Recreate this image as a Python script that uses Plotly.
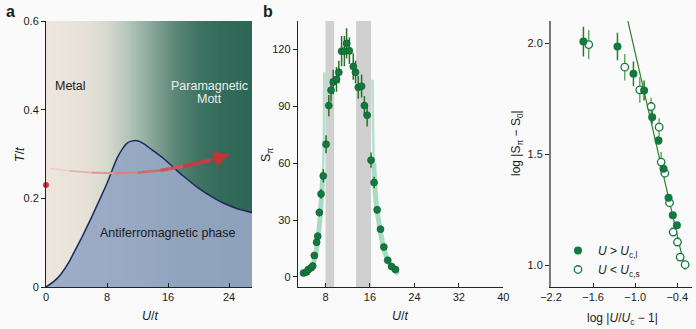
import numpy as np
import plotly.graph_objects as go

W, H = 696, 329

# ---------------- Panel a data ----------------
afm_u = [0, 1, 2, 3, 3.6, 4.7, 5.8, 7.0, 8.0, 8.7, 9.3, 10.0, 10.6, 11.2, 11.9, 12.3, 13.0, 13.6, 14.5, 15.6, 16.7, 17.8, 18.9, 20.0, 21.1, 22.2, 23.3, 25.0, 27.0]
afm_t = [0, 0.012, 0.03, 0.056, 0.076, 0.112, 0.151, 0.196, 0.234, 0.265, 0.290, 0.311, 0.324, 0.329, 0.330, 0.328, 0.321, 0.313, 0.302, 0.287, 0.270, 0.253, 0.2375, 0.223, 0.21, 0.199, 0.189, 0.177, 0.1677]
arrow_u = [0.5, 3, 6, 9, 12, 15, 18, 21.6]
arrow_t = [0.267, 0.262, 0.258, 0.2565, 0.258, 0.263, 0.272, 0.286]
arrow_tip = (24.1, 0.299)
start_dot = (0, 0.23)
grad_stops_u = [0, 5, 8, 11, 14, 17, 20, 23, 27]
grad_stops_c = ['#ede6dc', '#e7e2d7', '#d7d9cd', '#b2c3b8', '#86a598', '#5b8677', '#3f7363', '#336b5b', '#2e6656']

# ---------------- Panel b data ----------------
b_u = [4.05, 4.6, 4.9, 5.4, 5.7, 6.0, 6.4, 6.6, 6.9, 7.2, 7.6, 8.1, 8.6, 9.0, 9.4, 9.98, 10.4, 10.9, 11.4, 11.8,
       12.3, 13.0, 13.4, 13.9, 14.5, 15.0, 15.5, 16.2, 16.75, 17.3, 17.9, 18.5, 19.2, 19.9, 20.6]
b_s = [2.1, 2.6, 3.9, 4.8, 5.8, 11.3, 18.3, 21.5, 34.0, 43.8, 53.3, 70.0, 90.4, 98.5, 102.8, 104.2, 108.0, 119.1, 119.1, 123.2,
       119.3, 111.0, 108.0, 100.0, 100.6, 90.4, 85.3, 61.6, 49.8, 35.4, 25.2, 15.8, 8.8, 5.5, 3.9]
b_err = [1.0, 1.0, 1.0, 1.2, 1.2, 1.5, 1.8, 2.0, 2.1, 2.6, 3.5, 4.7, 5.6, 6.0, 6.5, 6.5, 6.0, 8.0, 8.0, 8.0,
         7.0, 7.0, 6.0, 6.0, 6.0, 5.0, 6.0, 4.0, 3.0, 2.0, 1.5, 1.5, 1.2, 1.0, 1.0]
rib_l_u = [4.0, 4.6, 5.0, 5.5, 6.0, 6.4, 6.8, 7.1, 7.35, 7.55, 7.68, 7.74, 7.78]
rib_l_s = [1.5, 2.5, 3.5, 5.0, 9.0, 15.0, 24.0, 34.0, 45.0, 55.0, 70.0, 90.0, 108.0]
rib_r_u = [16.45, 16.55, 16.7, 16.9, 17.2, 17.6, 18.0, 18.5, 19.2, 19.9, 20.6, 21.1]
rib_r_s = [104.0, 80.0, 60.0, 47.0, 37.0, 29.0, 22.0, 15.0, 9.0, 5.0, 3.0, 1.5]
bands = [(8.0, 9.56), (13.5, 16.2)]

# ---------------- Panel c data ----------------
cl_x = [-1.738, -1.253, -1.025, -0.873, -0.758, -0.668, -0.597, -0.525, -0.464, -0.406]
cl_y = [2.0075, 1.985, 1.862, 1.787, 1.667, 1.562, 1.435, 1.304, 1.225, 1.180]
cl_e = [0.067, 0.062, 0.056, 0.045, 0.03, 0.02, 0.015, 0.015, 0.015, 0.015]
cs_x = [-1.662, -1.149, -0.935, -0.773, -0.659, -0.630, -0.578, -0.511, -0.459, -0.397, -0.359, -0.288]
cs_y = [1.994, 1.892, 1.790, 1.715, 1.622, 1.465, 1.415, 1.282, 1.150, 1.105, 1.037, 1.003]
cs_e = [0.065, 0.06, 0.058, 0.04, 0.04, 0.045, 0.02, 0.02, 0.015, 0.015, 0.015, 0.015]
fit_x = [-1.106, -0.288]
fit_y = [2.102, 0.98]

FONT = "Liberation Sans, Arial, Helvetica, sans-serif"
GREEN = '#127a3e'

fig = go.Figure()

# ---- panel a ----
n = 135
gx_edges = np.linspace(0, 27, n + 1)
gx_c = 0.5 * (gx_edges[:-1] + gx_edges[1:])
cs = [[u / 27.0, c] for u, c in zip(grad_stops_u, grad_stops_c)]
fig.add_trace(go.Heatmap(x=gx_edges, y=[0, 0.6], z=[gx_c], zmin=0, zmax=27, colorscale=cs,
                         showscale=False, zsmooth=False, hoverinfo='skip', xaxis='x', yaxis='y'))
fig.add_trace(go.Scatter(x=afm_u, y=afm_t, mode='lines', line=dict(color='#1b2a5c', width=1.5, shape='spline', smoothing=0.3),
                         fill='tozeroy', fillcolor='rgba(150,167,196,0.93)', showlegend=False, hoverinfo='skip',
                         xaxis='x', yaxis='y'))
nseg = len(arrow_u) - 1
c0 = np.array([244, 210, 214]); c1 = np.array([192, 50, 55])
for i in range(nseg):
    f = (i + 0.5) / nseg
    col = c0 + (c1 - c0) * f
    fig.add_trace(go.Scatter(x=arrow_u[i:i + 2], y=arrow_t[i:i + 2], mode='lines',
                             line=dict(color='rgb(%d,%d,%d)' % tuple(col.astype(int)), width=1.0 + 3.0 * f),
                             showlegend=False, hoverinfo='skip', xaxis='x', yaxis='y'))
fig.add_trace(go.Scatter(x=[start_dot[0]], y=[start_dot[1]], mode='markers', cliponaxis=False,
                         marker=dict(color='#c8373c', size=6), showlegend=False, hoverinfo='skip',
                         xaxis='x', yaxis='y'))

# ---- panel b ----
for (x0, x1) in bands:
    fig.add_shape(type='rect', xref='x2', yref='y2 domain', x0=x0, x1=x1, y0=0, y1=1,
                  fillcolor='#d0d0d0', line=dict(width=0), layer='below')
rib_col = 'rgba(110,200,160,0.6)'
fig.add_trace(go.Scatter(x=rib_l_u[:10], y=rib_l_s[:10], mode='lines', line=dict(color=rib_col, width=5, shape='spline'),
                         showlegend=False, hoverinfo='skip', xaxis='x2', yaxis='y2'))
fig.add_trace(go.Scatter(x=rib_l_u[9:], y=rib_l_s[9:], mode='lines', line=dict(color='rgba(110,200,160,0.5)', width=2.5, shape='spline'),
                         showlegend=False, hoverinfo='skip', xaxis='x2', yaxis='y2'))
fig.add_trace(go.Scatter(x=rib_r_u[:3], y=rib_r_s[:3], mode='lines', line=dict(color='rgba(110,200,160,0.5)', width=2.5, shape='spline'),
                         showlegend=False, hoverinfo='skip', xaxis='x2', yaxis='y2'))
fig.add_trace(go.Scatter(x=rib_r_u[2:], y=rib_r_s[2:], mode='lines', line=dict(color=rib_col, width=5, shape='spline'),
                         showlegend=False, hoverinfo='skip', xaxis='x2', yaxis='y2'))
fig.add_trace(go.Scatter(x=b_u, y=b_s, mode='markers',
                         error_y=dict(type='data', array=b_err, color='#2c6e2c', thickness=1.5, width=0),
                         marker=dict(color=GREEN, size=7, line=dict(color='#0d5a2c', width=0.6)),
                         showlegend=False, hoverinfo='skip', xaxis='x2', yaxis='y2'))

# ---- panel c ----
fig.add_trace(go.Scatter(x=fit_x, y=fit_y, mode='lines', line=dict(color='#2e7d32', width=1.2),
                         showlegend=False, hoverinfo='skip', xaxis='x3', yaxis='y3'))
fig.add_trace(go.Scatter(x=cs_x, y=cs_y, mode='markers', name='<i>U</i> < <i>U</i><sub>c,s</sub>',
                         error_y=dict(type='data', array=cs_e, color='#6aa86a', thickness=1.5, width=0),
                         marker=dict(color='white', size=7.5, line=dict(color=GREEN, width=1.3)),
                         hoverinfo='skip', xaxis='x3', yaxis='y3'))
fig.add_trace(go.Scatter(x=cl_x, y=cl_y, mode='markers', name='<i>U</i> > <i>U</i><sub>c,l</sub>',
                         error_y=dict(type='data', array=cl_e, color='#2c7a2c', thickness=1.5, width=0),
                         marker=dict(color=GREEN, size=8),
                         hoverinfo='skip', xaxis='x3', yaxis='y3'))

def px_x(a, b):
    return [a / W, b / W]

ydom = [1 - 287 / H, 1 - 21 / H]
tickfont = dict(family=FONT, size=11, color='#1a1a1a')
common = dict(showgrid=False, zeroline=False, tickfont=tickfont, ticklen=4, tickwidth=1, tickcolor='#222',
              automargin=False, showline=True, linewidth=1, linecolor='#222')

fig.update_layout(
    width=W, height=H, margin=dict(l=0, r=0, t=0, b=0, autoexpand=False),
    paper_bgcolor='#fafafa', plot_bgcolor='rgba(0,0,0,0)',
    font=dict(family=FONT, size=11, color='#1a1a1a'),
    xaxis=dict(domain=px_x(46, 252), range=[0, 27], tickvals=[0, 8, 16, 24], ticks='inside', anchor='y', **common),
    yaxis=dict(domain=ydom, range=[0, 0.6], tickvals=[0, 0.2, 0.4, 0.6], ticks='outside', anchor='x', **common),
    xaxis2=dict(domain=px_x(297.7, 503.3), range=[3.0, 40], tickvals=[8, 16, 24, 32, 40], ticks='inside', anchor='y2', **common),
    yaxis2=dict(domain=ydom, range=[-5.3, 135], tickvals=[0, 30, 60, 90, 120], ticks='outside', anchor='x2', **common),
    xaxis3=dict(domain=px_x(551, 691.7), range=[-2.2, -0.195], tickvals=[-2.2, -1.6, -1.0, -0.4], tickformat='.1f',
                ticks='inside', anchor='y3', **common),
    yaxis3=dict(domain=ydom, range=[0.9025, 2.1], tickvals=[1.0, 1.5, 2.0], tickformat='.1f', ticks='outside',
                anchor='x3', **common),
    legend=dict(x=558 / W, y=1 - 236 / H, xanchor='left', yanchor='top', bgcolor='rgba(0,0,0,0)',
                font=dict(family=FONT, size=12, color='#1a1a1a'), itemwidth=30, traceorder='reversed',
                tracegroupgap=0),
)
fig.update_yaxes(linecolor='#7a7a7a', linewidth=2, selector=dict(anchor='x3'))

ann = []
def pa(text, x, y, size=12.5, angle=0, bold=False, color='#1a1a1a'):
    ann.append(dict(text=('<b>%s</b>' % text) if bold else text, x=x / W, y=1 - y / H, xref='paper', yref='paper',
                    showarrow=False, textangle=angle, font=dict(family=FONT, size=size, color=color),
                    xanchor='center', yanchor='middle'))

pa('a', 10, 11, size=16, bold=True)
pa('b', 268, 11, size=16, bold=True)
pa('<i>T</i>/<i>t</i>', 20, 155, angle=-90)
pa('<i>U</i>/<i>t</i>', 150, 316)
pa('S<sub>π</sub>', 267, 155, angle=-90)
pa('<i>U</i>/<i>t</i>', 400, 316)
pa('log |S<sub>π</sub> − S<sub>0</sub>|', 517, 143, angle=-90, size=12)
pa('log |<i>U</i>/<i>U</i><sub>c</sub> − 1|', 622, 319, size=12)

for txt, x, y, col, anchor in [('Metal', 0.9, 0.4535, '#1a1a1a', 'left'),
                               ('Paramagnetic', 21.4, 0.4535, '#e9efec', 'center'),
                               ('Mott', 21.4, 0.423, '#e9efec', 'center'),
                               ('Antiferromagnetic phase', 15.96, 0.1225, '#1a1a1a', 'center')]:
    ann.append(dict(text=txt, x=x, y=y, xref='x', yref='y', showarrow=False, xanchor=anchor, yanchor='middle',
                    font=dict(family=FONT, size=12.5, color=col)))

# arrow head
ann.append(dict(x=arrow_tip[0], y=arrow_tip[1], ax=arrow_u[-1], ay=arrow_t[-1], xref='x', yref='y', axref='x', ayref='y',
                showarrow=True, arrowhead=2, arrowsize=0.9, arrowwidth=3.5, arrowcolor='#c03538', text=''))
fig.update_layout(annotations=ann)

fig.write_html("out.html")
